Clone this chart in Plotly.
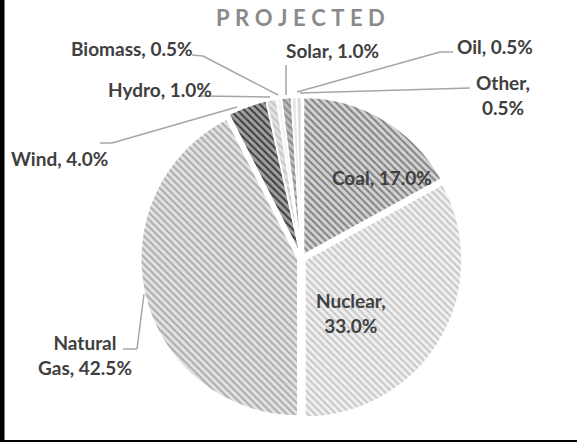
import plotly.graph_objects as go

# ---- data ----
labels = ["Coal", "Nuclear", "Natural Gas", "Wind", "Hydro", "Biomass", "Solar", "Oil", "Other"]
values = [17.0, 33.0, 42.5, 4.0, 1.0, 0.5, 1.0, 0.5, 0.5]
title_text = "PROJECTED"

# ---- styling ----
W, H = 577, 442
bg_colors = ["#d2d2d2", "#f0f0f0", "#e2e2e2", "#a0a0a0", "#e2e2e2", "#f4f4f4", "#bcbcbc", "#e8e8e8", "#dcdcdc"]
fg_colors = ["#808080", "#c6c6c6", "#ababab", "#3c3c3c", "#c4c4c4", "#f4f4f4", "#888888", "#e8e8e8", "#dcdcdc"]
shapes_pat = ["\\", "\\", "\\", "\\", "\\", "", "\\", "", ""]
breaks = {"Nuclear": ", ", "Natural Gas": " ", "Other": ", "}

# label centres (pixels) and leader lines (pixels)
label_pos = {
    "Coal": (382, 177), "Nuclear": (351, 313), "Natural Gas": (85, 355),
    "Wind": (59, 158), "Hydro": (160, 90), "Biomass": (132, 48),
    "Solar": (332, 50), "Oil": (495, 47), "Other": (503, 95),
}
leaders = {
    "Natural Gas": [(123, 349), (137, 349), (144, 294)],
    "Wind": [(100, 143), (112, 143), (237, 107)],
    "Hydro": [(200, 96), (270, 97)],
    "Biomass": [(192, 55), (203, 56), (278, 95)],
    "Solar": [(286, 65), (286, 95)],
    "Oil": [(453, 52), (440, 52), (297, 92)],
    "Other": [(470, 88), (300, 93)],
}

def px(x):
    return x / W

def py(y):
    return 1 - y / H

cx, cy, R, pull = 301.6, 258.0, 157.0, 0.025
half = R * (1 + pull)

fig = go.Figure(go.Pie(
    labels=labels, values=values, sort=False, direction="clockwise", rotation=0,
    textinfo="none", hoverinfo="label+percent",
    pull=[pull] * len(values),
    marker=dict(
        colors=bg_colors,
        line=dict(color="white", width=1.5),
        pattern=dict(shape=shapes_pat, fgcolor=fg_colors, bgcolor=bg_colors,
                     size=5, solidity=0.4),
    ),
    domain=dict(x=[px(cx - half), px(cx + half)], y=[py(cy + half), py(cy - half)]),
    showlegend=False,
))

font_fam = "Lato, 'Open Sans', sans-serif"
annotations = []
for lab, val in zip(labels, values):
    txt = f"{lab}, {val:.1f}%"
    if lab in breaks:
        sep = breaks[lab]
        txt = txt.replace(sep, sep.rstrip() + "<br>", 1)
    x, y = label_pos[lab]
    annotations.append(dict(
        x=px(x), y=py(y), xref="paper", yref="paper", xanchor="center", yanchor="middle",
        text=f"<b>{txt}</b>", showarrow=False, align="center",
        font=dict(family=font_fam, size=19, color="#404040"),
    ))

annotations.append(dict(
    x=px(300), y=py(18), xref="paper", yref="paper", xanchor="center", yanchor="middle",
    text="<b>" + "\u2005".join(title_text) + "</b>", showarrow=False,
    font=dict(family=font_fam, size=22, color="#8a8a8a"),
))

shapes = []
for lab, pts in leaders.items():
    for (x0, y0), (x1, y1) in zip(pts[:-1], pts[1:]):
        shapes.append(dict(type="line", xref="paper", yref="paper",
                           x0=px(x0), y0=py(y0), x1=px(x1), y1=py(y1),
                           line=dict(color="#a6a6a6", width=1.5)))
# black frame edges (left and bottom)
shapes.append(dict(type="rect", xref="paper", yref="paper", x0=0, x1=px(4.5), y0=0, y1=1,
                   fillcolor="black", line=dict(width=0), layer="above"))
shapes.append(dict(type="rect", xref="paper", yref="paper", x0=0, x1=1, y0=0, y1=2 / H,
                   fillcolor="black", line=dict(width=0), layer="above"))

fig.update_layout(
    width=W, height=H, margin=dict(l=0, r=0, t=0, b=0),
    paper_bgcolor="white", plot_bgcolor="white",
    annotations=annotations, shapes=shapes,
)

fig.write_html("out.html", config={"displayModeBar": False},
               post_script="document.body.style.margin='0';")
